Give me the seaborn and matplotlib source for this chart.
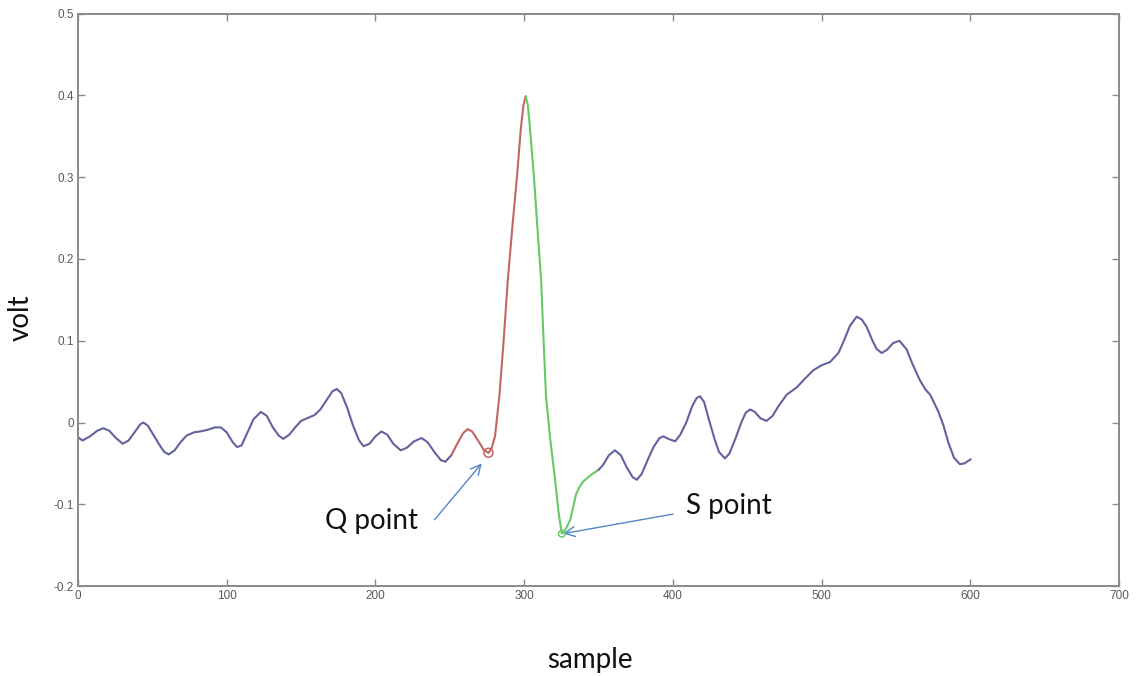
import numpy as np
import pandas as pd
import matplotlib
matplotlib.use("Agg")
import matplotlib.pyplot as plt
import seaborn as sns

# ECG beat: baseline before the QRS complex (blue)
pre_x = [0, 3, 8, 13, 17, 21, 25, 30, 34, 38, 42, 44, 47, 51, 55, 58, 61, 65, 69, 73,
         78, 82, 87, 92, 96, 100, 104, 107, 110, 114, 118, 123, 127, 131, 135, 138,
         142, 146, 150, 155, 159, 163, 167, 171, 174, 177, 181, 185, 189, 192, 196,
         200, 204, 208, 212, 217, 221, 226, 231, 235, 240, 244, 247, 251]
pre_y = [-0.018, -0.022, -0.017, -0.010, -0.007, -0.010, -0.018, -0.026, -0.022, -0.012,
         -0.002, 0.000, -0.004, -0.016, -0.028, -0.036, -0.039, -0.034, -0.024, -0.016,
         -0.012, -0.011, -0.009, -0.006, -0.006, -0.012, -0.024, -0.030, -0.028, -0.012,
         0.004, 0.013, 0.008, -0.006, -0.016, -0.020, -0.015, -0.006, 0.002, 0.006,
         0.009, 0.016, 0.027, 0.038, 0.041, 0.036, 0.018, -0.004, -0.022, -0.029,
         -0.026, -0.017, -0.011, -0.015, -0.026, -0.034, -0.031, -0.023, -0.019, -0.024,
         -0.037, -0.046, -0.048, -0.040]

# Q wave and rising R edge (red)
q_x = [251, 255, 259, 262, 265, 269, 273, 276, 278, 280.4, 283.3, 286, 289, 292, 295,
       297.7, 299.5, 301]
q_y = [-0.040, -0.026, -0.013, -0.008, -0.011, -0.022, -0.034, -0.037, -0.032, -0.017,
       0.032, 0.095, 0.174, 0.238, 0.297, 0.358, 0.388, 0.399]

# falling R edge, S wave and recovery (green)
s_x = [301, 302.5, 304, 306.7, 309, 311.4, 313, 314.7, 317.5, 320.8, 323, 325.3, 327.5,
       331, 333, 335, 337.5, 339.8, 345, 350]
s_y = [0.399, 0.388, 0.358, 0.297, 0.236, 0.174, 0.103, 0.032, -0.020, -0.070, -0.108,
       -0.136, -0.132, -0.119, -0.103, -0.087, -0.078, -0.072, -0.064, -0.058]

# ST segment and T wave (blue)
post_x = [350, 353, 357, 361, 365, 369, 373, 375.7, 379, 383, 387, 391, 393.6, 397, 401.5,
          405, 409, 413, 416, 418.3, 421, 424, 428, 431, 435, 438, 442, 446, 449, 452,
          455, 459, 463, 467, 471, 476.5, 483.3, 489, 494.5, 500, 505.7, 511.3, 515, 519,
          523.6, 527, 530.3, 534, 537, 540.4, 544, 548, 552.3, 557.3, 561, 566, 570, 573,
          578.6, 582, 585.3, 589, 593, 596, 600.3]
post_y = [-0.058, -0.052, -0.040, -0.034, -0.040, -0.055, -0.067, -0.070, -0.063, -0.046,
          -0.030, -0.019, -0.017, -0.020, -0.023, -0.015, 0.000, 0.020, 0.030, 0.032,
          0.025, 0.005, -0.020, -0.036, -0.044, -0.038, -0.020, 0.000, 0.012, 0.016,
          0.013, 0.005, 0.002, 0.008, 0.020, 0.034, 0.043, 0.054, 0.064, 0.070, 0.074,
          0.085, 0.100, 0.118, 0.1295, 0.126, 0.117, 0.101, 0.090, 0.085, 0.089, 0.097,
          0.100, 0.089, 0.072, 0.052, 0.040, 0.034, 0.013, -0.004, -0.025, -0.043,
          -0.051, -0.050, -0.045]

# detected fiducial points
q_point = (276, -0.037)
s_point = (325.3, -0.136)

x_ticks = [0, 100, 200, 300, 400, 500, 600, 700]
x_tick_labels = ["0", "100", "200", "300", "400", "500", "600", "700"]
y_ticks = [-0.2, -0.1, 0.0, 0.1, 0.2, 0.3, 0.4, 0.5]
y_tick_labels = ["-0.2", "-0.1", "0", "0.1", "0.2", "0.3", "0.4", "0.5"]

BLUE = "#62629e"
RED = "#c46464"
GREEN = "#66c966"
ARROW = "#5486c4"
AXIS_GREY = "#8a8a8a"
TICK_TEXT = "#5a5a5a"

sns.set_theme(style="white")
plt.rcParams["font.family"] = ["Liberation Sans", "DejaVu Sans"]

fig = plt.figure(figsize=(11.37, 6.76), dpi=100)
ax = fig.add_axes([0.0686, 0.1331, 0.9842 - 0.0686, 0.9797 - 0.1331])

segments = [(pre_x, pre_y, BLUE), (q_x, q_y, RED), (s_x, s_y, GREEN), (post_x, post_y, BLUE)]
for xs, ys, col in segments:
    df = pd.DataFrame({"sample": xs, "volt": ys})
    sns.lineplot(data=df, x="sample", y="volt", color=col, linewidth=1.5, ax=ax,
                 sort=False, estimator=None, solid_joinstyle="round",
                 solid_capstyle="round")

sns.scatterplot(x=[q_point[0]], y=[q_point[1]], marker="o", s=42, facecolor="none",
                edgecolor=RED, linewidth=1.1, ax=ax, zorder=5)
sns.scatterplot(x=[s_point[0]], y=[s_point[1]], marker="o", s=22, facecolor="none",
                edgecolor=GREEN, linewidth=1.1, ax=ax, zorder=5)

ax.set_xlim(0, 700)
ax.set_ylim(-0.2, 0.5)
ax.set_xticks(x_ticks)
ax.set_xticklabels(x_tick_labels)
ax.set_yticks(y_ticks)
ax.set_yticklabels(y_tick_labels)
ax.tick_params(direction="in", length=5, width=1.0, color=AXIS_GREY, labelsize=8.5,
               labelcolor=TICK_TEXT, top=True, right=True, bottom=True, left=True, pad=3)
for sp in ax.spines.values():
    sp.set_color(AXIS_GREY)
    sp.set_linewidth(1.4)
ax.set_xlabel("")
ax.set_ylabel("")
ax.grid(False)

label_font = ["Lato", "DejaVu Sans"]
fig.text(21 / 1137, 1 - 318 / 676, "volt", rotation=90, ha="center", va="center",
         fontsize=20, family=label_font, color="#111111")
fig.text(590 / 1137, 1 - 660 / 676, "sample", ha="center", va="center",
         fontsize=20, family=label_font, color="#111111")

ax.text(197.4, -0.1206, "Q point", ha="center", va="center", fontsize=20,
        family=label_font, color="#111111")
ax.text(437.8, -0.102, "S point", ha="center", va="center", fontsize=20,
        family=label_font, color="#111111")

ax.annotate("", xy=(271.5, -0.050), xytext=(239.7, -0.119),
            arrowprops=dict(arrowstyle="->,head_length=0.6,head_width=0.3",
                            color=ARROW, lw=1.0, shrinkA=0, shrinkB=0))
ax.annotate("", xy=(326.4, -0.1359), xytext=(400.1, -0.112),
            arrowprops=dict(arrowstyle="->,head_length=0.6,head_width=0.3",
                            color=ARROW, lw=1.0, shrinkA=0, shrinkB=0))

fig.savefig("out.png", dpi=100, facecolor="white")
